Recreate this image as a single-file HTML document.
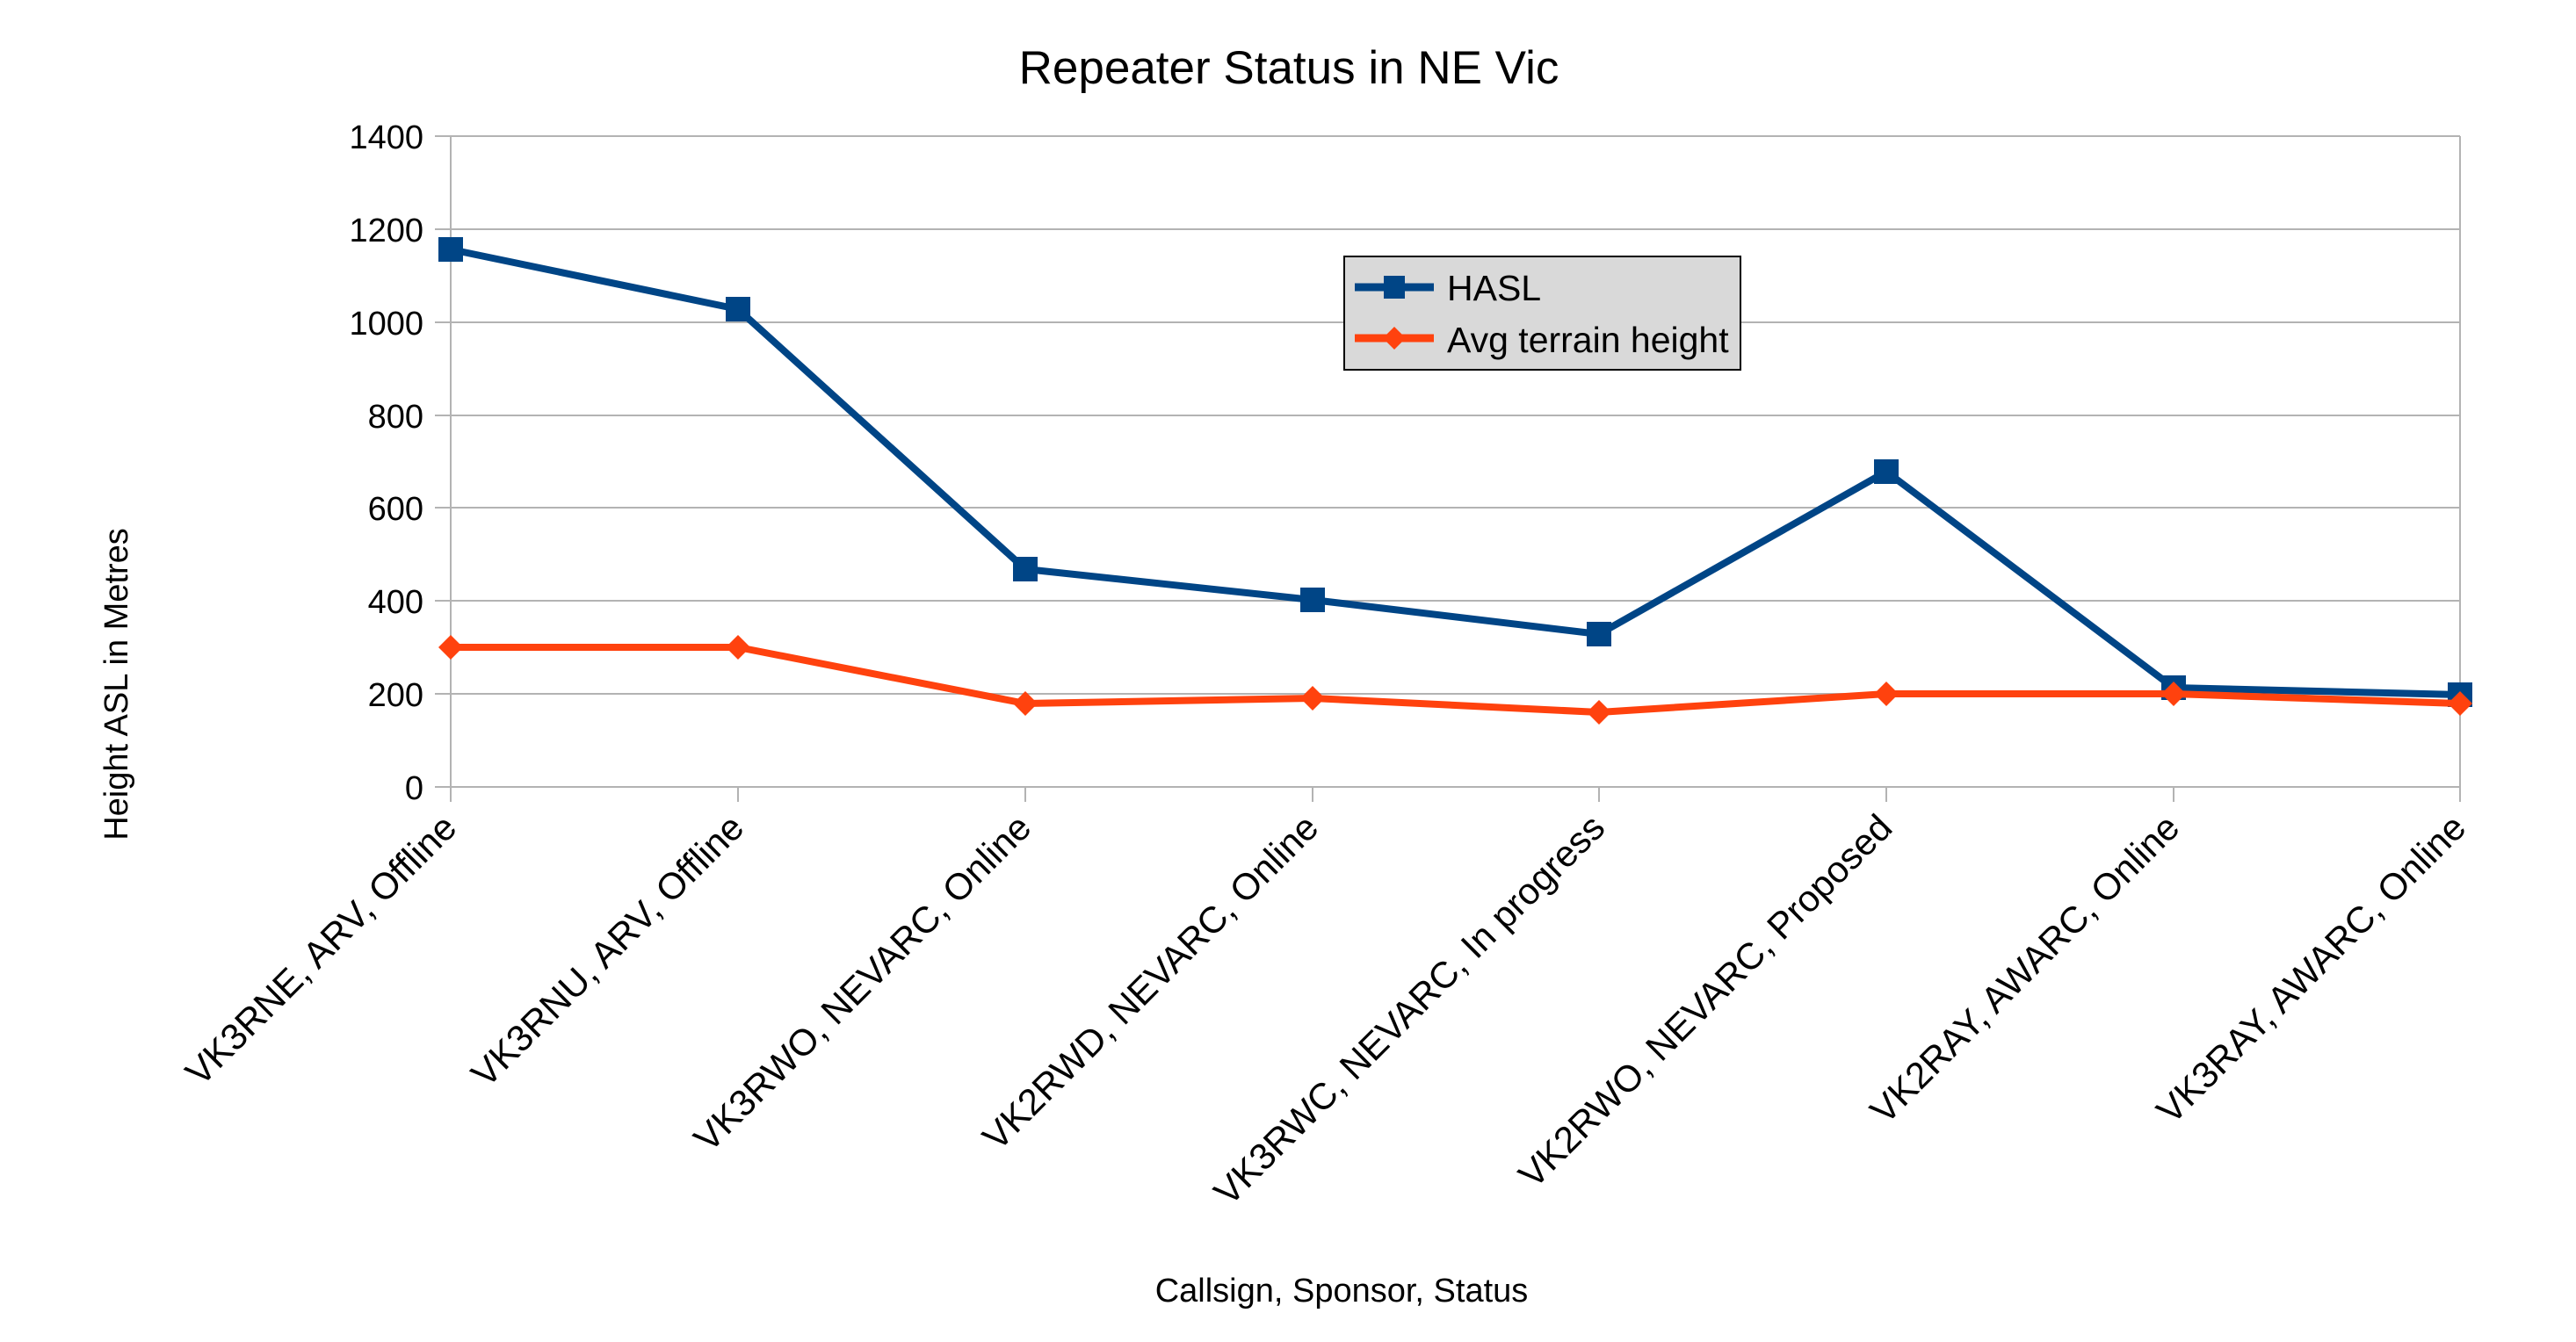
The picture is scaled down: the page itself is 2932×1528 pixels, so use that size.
<!DOCTYPE html>
<html><head><meta charset="utf-8"><style>html,body{margin:0;padding:0;background:#fff}svg{display:block}</style></head>
<body>
<svg width="2932" height="1528" viewBox="0 0 2932 1528" xmlns="http://www.w3.org/2000/svg" font-family="Liberation Sans, sans-serif">
<rect width="2932" height="1528" fill="#fff"/>
<text x="1467" y="95" font-size="53" text-anchor="middle">Repeater Status in NE Vic</text>
<g stroke="#b3b3b3" stroke-width="2">
<line x1="495" y1="155" x2="2800" y2="155"/>
<line x1="495" y1="261" x2="2800" y2="261"/>
<line x1="495" y1="367" x2="2800" y2="367"/>
<line x1="495" y1="473" x2="2800" y2="473"/>
<line x1="495" y1="578" x2="2800" y2="578"/>
<line x1="495" y1="684" x2="2800" y2="684"/>
<line x1="495" y1="790" x2="2800" y2="790"/>
<line x1="495" y1="896" x2="2800" y2="896"/>
<line x1="513" y1="155" x2="513" y2="913"/>
<line x1="2800" y1="155" x2="2800" y2="913"/>
<line x1="840" y1="896" x2="840" y2="913"/>
<line x1="1167" y1="896" x2="1167" y2="913"/>
<line x1="1494" y1="896" x2="1494" y2="913"/>
<line x1="1820" y1="896" x2="1820" y2="913"/>
<line x1="2147" y1="896" x2="2147" y2="913"/>
<line x1="2474" y1="896" x2="2474" y2="913"/>
</g>
<g font-size="38" text-anchor="end">
<text x="482" y="169">1400</text>
<text x="482" y="275">1200</text>
<text x="482" y="381">1000</text>
<text x="482" y="487">800</text>
<text x="482" y="592">600</text>
<text x="482" y="698">400</text>
<text x="482" y="804">200</text>
<text x="482" y="910">0</text>
</g>
<polyline fill="none" stroke="#004586" stroke-width="8" stroke-linejoin="round" points="513,284 840,352 1167,648 1494,683 1820,722 2147,537 2474,783 2800,791"/>
<g fill="#004586">
<rect x="499" y="270" width="28" height="28"/><rect x="826" y="338" width="28" height="28"/><rect x="1153" y="634" width="28" height="28"/><rect x="1480" y="669" width="28" height="28"/><rect x="1806" y="708" width="28" height="28"/><rect x="2133" y="523" width="28" height="28"/><rect x="2460" y="769" width="28" height="28"/><rect x="2786" y="777" width="28" height="28"/>
</g>
<polyline fill="none" stroke="#ff420e" stroke-width="8" stroke-linejoin="round" points="513,737 840,737 1167,801 1494,795 1820,811 2147,790 2474,790 2800,801"/>
<g fill="#ff420e">
<path d="M513,723 l14,14 l-14,14 l-14,-14z"/><path d="M840,723 l14,14 l-14,14 l-14,-14z"/><path d="M1167,787 l14,14 l-14,14 l-14,-14z"/><path d="M1494,781 l14,14 l-14,14 l-14,-14z"/><path d="M1820,797 l14,14 l-14,14 l-14,-14z"/><path d="M2147,776 l14,14 l-14,14 l-14,-14z"/><path d="M2474,776 l14,14 l-14,14 l-14,-14z"/><path d="M2800,787 l14,14 l-14,14 l-14,-14z"/>
</g>
<rect x="1530" y="292" width="451" height="129" fill="#d9d9d9" stroke="#000" stroke-width="2"/>
<line x1="1542" y1="327" x2="1632" y2="327" stroke="#004586" stroke-width="9"/>
<rect x="1575" y="314" width="24" height="26" fill="#004586"/>
<line x1="1542" y1="385" x2="1632" y2="385" stroke="#ff420e" stroke-width="9"/>
<path d="M1587,372 l13,13 l-13,13 l-13,-13z" fill="#ff420e"/>
<g font-size="41"><text x="1647" y="342">HASL</text><text x="1647" y="401">Avg terrain height</text></g>
<g font-size="42" text-anchor="end">
<text transform="translate(522,945) rotate(-45)">VK3RNE, ARV, Offline</text>
<text transform="translate(849,945) rotate(-45)">VK3RNU, ARV, Offline</text>
<text transform="translate(1176,945) rotate(-45)">VK3RWO, NEVARC, Online</text>
<text transform="translate(1503,945) rotate(-45)">VK2RWD, NEVARC, Online</text>
<text transform="translate(1829,945) rotate(-45)">VK3RWC, NEVARC, In progress</text>
<text transform="translate(2156,945) rotate(-45)">VK2RWO, NEVARC, Proposed</text>
<text transform="translate(2483,945) rotate(-45)">VK2RAY, AWARC, Online</text>
<text transform="translate(2809,945) rotate(-45)">VK3RAY, AWARC, Online</text>
</g>
<text x="1527" y="1482" font-size="38" text-anchor="middle">Callsign, Sponsor, Status</text>
<text transform="translate(145,779) rotate(-90)" font-size="38" text-anchor="middle">Height ASL in Metres</text>
</svg>
</body></html>
